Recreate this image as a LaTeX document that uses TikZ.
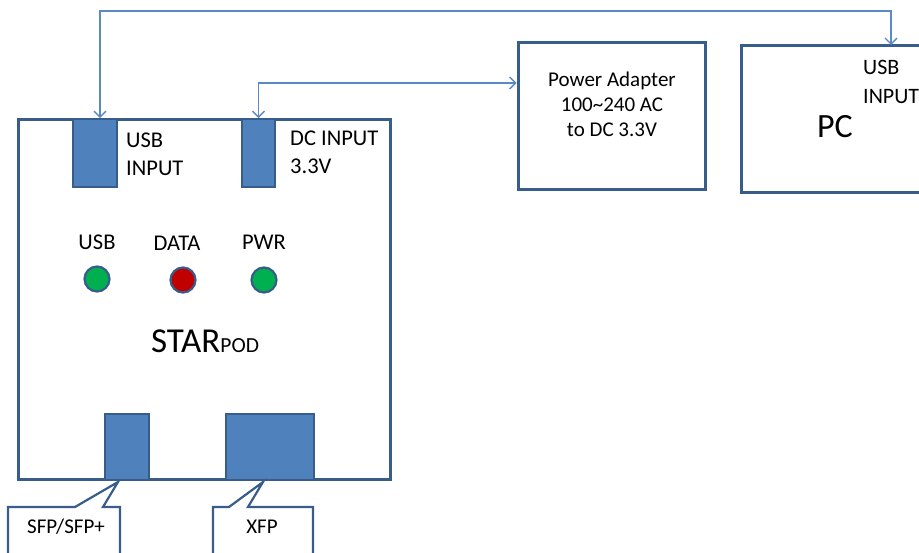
\documentclass[tikz,border=0pt]{standalone}
\usepackage{fontspec}
\setmainfont{Carlito}
\usetikzlibrary{arrows.meta,positioning,calc}
\definecolor{edgeblue}{HTML}{385D8A}
\definecolor{portblue}{HTML}{4F81BD}
\definecolor{linkblue}{HTML}{5A8AC6}
\definecolor{ledgreen}{HTML}{00B050}
\definecolor{ledred}{HTML}{C00000}

\begin{document}
\begin{tikzpicture}[x=1pt, y=-1pt, font=\fontsize{22.5}{28}\selectfont,
    box/.style={rectangle, draw=edgeblue, line width=3pt, fill=white},
    port/.style={rectangle, draw=edgeblue, line width=2pt, fill=portblue},
    led/.style={circle, draw=edgeblue, line width=2.2pt, minimum size=25pt, inner sep=0pt},
    link/.style={draw=linkblue, line width=1.4pt, {Straight Barb[length=6pt,width=12pt]}-{Straight Barb[length=6pt,width=12pt]}},
    callout/.style={draw=edgeblue, line width=2.2pt, fill=white, line join=miter},
    lbl/.style={align=left, inner sep=0pt, anchor=north west}]
    \useasboundingbox (0,0) rectangle (919,552);

    % Boxes
    \node (starpod) [box, minimum width=372pt, minimum height=360pt] at (204,299) {};
    \node (adapter) [box, minimum width=187pt, minimum height=147pt] at (611.5,115.5) {};
    \node (pc) [box, minimum width=240pt, minimum height=147pt] at (861,118.5) {};

    % Ports
    \node (usbin) [port, minimum width=44pt, minimum height=68pt] at (95,153) {};
    \node (dcin) [port, minimum width=33pt, minimum height=68pt] at (258.5,153) {};
    \node (sfp) [port, minimum width=44pt, minimum height=66pt] at (127,447) {};
    \node (xfp) [port, minimum width=88pt, minimum height=66pt] at (270,447) {};

    % Port labels
    \node (usbtxt) [lbl] at (126,133) {USB\\INPUT};
    \node (dctxt) [lbl] at (290,131) {DC INPUT\\3.3V};
    \node (pcusbtxt) [lbl, font=\fontsize{22}{29}\selectfont] at (863,60) {USB\\INPUT};

    % LEDs
    \node (usbled) [led, fill=ledgreen] at (97,279) {};
    \node (dataled) [led, fill=ledred] at (183,280) {};
    \node (pwrled) [led, fill=ledgreen] at (264,280) {};
    \node (usbledtxt) [above=12pt of usbled] {USB};
    \node (dataledtxt) [above=12pt of dataled, xshift=-6pt] {DATA};
    \node (pwrledtxt) [above=13pt of pwrled] {PWR};

    % Titles
    \node (brand) [anchor=base] at (205,352) {\fontsize{35}{40}\selectfont STAR\fontsize{21.5}{26}\selectfont POD};
    \node (pctxt) [anchor=base, font=\fontsize{34}{40}\selectfont] at (835,137) {PC};
    \node (adaptertxt) [anchor=north, inner sep=0pt, align=center, font=\fontsize{21}{25}\selectfont] at (612,72)
        {Power Adapter\\100\textasciitilde240 AC\\to DC 3.3V};

    % Callouts
    \draw [callout] (8,560) -- (8,507) -- (75,507) -- (118,482) -- (103,507) -- (120,507) -- (120,560);
    \draw [callout] (213,560) -- (213,507) -- (229,507) -- (263,482) -- (248,507) -- (313,507) -- (313,560);
    \node (sfptxt) [font=\fontsize{21}{25}\selectfont] at (66,527) {SFP/SFP+};
    \node (xfptxt) [font=\fontsize{21}{25}\selectfont] at (262,527) {XFP};

    % Arrows
    \coordinate (pcusb) at (891,45);
    \draw [link] ([xshift=5pt]usbin.north) -- ([xshift=5pt]usbin.north |- 0,11) -| (pcusb);
    \draw [link] (dcin.north) |- (adapter.west |- 0,83);
\end{tikzpicture}
\end{document}
